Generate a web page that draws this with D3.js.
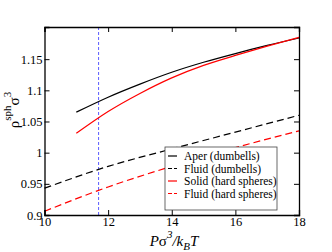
<!DOCTYPE html>
<meta charset="utf-8">
<style>
body { margin: 0; background: #fff; }
svg { font-family: "Liberation Serif", "DejaVu Serif", serif; }
.axis path, .axis line { stroke: #000; }
</style>
<body>
<script src="https://cdn.jsdelivr.net/npm/d3@7"></script>
<script>
var width = 332, height = 252;
var margin = {top: 27, right: 33, bottom: 37, left: 44.5};

// pressure values
var pSolid = [11, 12, 13, 14, 15, 16, 17, 18];
var pFluid = [10, 12, 14, 16, 18];
// densities
var aperDumb = [1.065, 1.089, 1.110, 1.129, 1.145, 1.159, 1.172, 1.184];
var solidHS = [1.031, 1.066, 1.095, 1.120, 1.140, 1.156, 1.171, 1.185];
var fluidDumb = [0.943, 0.978, 1.006, 1.033, 1.060];
var fluidHS = [0.906, 0.945, 0.978, 1.008, 1.035];
var markerP = 11.7;

var xTicks = [10, 12, 14, 16, 18];
var yTicks = [0.9, 0.95, 1, 1.05, 1.1, 1.15];

var legendNames = ["Aper (dumbells)", "Fluid (dumbells)", "Solid (hard spheres)", "Fluid (hard spheres)"];
var series = [
  {x: pSolid, y: aperDumb, color: "#000", dash: null},
  {x: pFluid, y: fluidDumb, color: "#000", dash: "7,4"},
  {x: pSolid, y: solidHS, color: "#ff0000", dash: null},
  {x: pFluid, y: fluidHS, color: "#ff0000", dash: "7,4"}
];

var svg = d3.select("body").append("svg")
    .attr("width", width)
    .attr("height", height);

var x = d3.scaleLinear().domain([10, 18]).range([margin.left, width - margin.right]);
var y = d3.scaleLinear().domain([0.9, 1.2016]).range([height - margin.bottom, margin.top]);

var line = d3.line()
    .x(function(d) { return x(d[0]); })
    .y(function(d) { return y(d[1]); })
    .curve(d3.curveMonotoneX);

// blue marker line
svg.append("line")
    .attr("x1", x(markerP)).attr("x2", x(markerP))
    .attr("y1", y.range()[1]).attr("y2", y.range()[0])
    .attr("stroke", "#3333ff")
    .attr("stroke-width", 0.8)
    .attr("stroke-dasharray", "3,2");

series.forEach(function(s) {
  svg.append("path")
      .datum(d3.zip(s.x, s.y))
      .attr("d", line)
      .attr("fill", "none")
      .attr("stroke", s.color)
      .attr("stroke-width", 1.2)
      .attr("stroke-dasharray", s.dash);
});

// axes, ticks pointing inward
var fmt = function(d) { return d3.format("")(d); };
svg.append("g").attr("class", "axis")
    .attr("transform", "translate(0," + y.range()[0] + ")")
    .call(d3.axisBottom(x).tickValues(xTicks).tickSize(-5).tickPadding(2).tickFormat(fmt));
svg.append("g").attr("class", "axis")
    .attr("transform", "translate(0," + y.range()[1] + ")")
    .call(d3.axisTop(x).tickValues(xTicks).tickSize(-5).tickFormat(""));
svg.append("g").attr("class", "axis")
    .attr("transform", "translate(" + x.range()[0] + ",0)")
    .call(d3.axisLeft(y).tickValues(yTicks).tickSize(-5).tickPadding(2).tickFormat(fmt));
svg.append("g").attr("class", "axis")
    .attr("transform", "translate(" + x.range()[1] + ",0)")
    .call(d3.axisRight(y).tickValues(yTicks).tickSize(-5).tickFormat(""));

svg.selectAll(".axis path").attr("stroke-width", 1.3);
svg.selectAll(".axis text")
    .attr("font-family", "Liberation Serif, serif")
    .attr("font-size", 12.5)
    .attr("fill", "#000");

// legend
var lg = svg.append("g").attr("transform", "translate(165,147)");
lg.append("rect")
    .attr("width", 112).attr("height", 63)
    .attr("fill", "#fff").attr("stroke", "#444").attr("stroke-width", 0.8);
legendNames.forEach(function(n, i) {
  var yy = 9 + i * 12.5;
  lg.append("line")
      .attr("x1", 3).attr("x2", 12).attr("y1", yy).attr("y2", yy)
      .attr("stroke", series[i].color).attr("stroke-width", 1.2)
      .attr("stroke-dasharray", series[i].dash ? "4,2" : null);
  lg.append("text")
      .attr("x", 19).attr("y", yy + 4)
      .attr("font-size", 11.5)
      .text(n);
});

// x label
var xl = svg.append("text")
    .attr("x", 174).attr("y", 246)
    .attr("text-anchor", "middle")
    .attr("font-size", 15)
    .attr("font-style", "italic");
xl.append("tspan").text("P");
xl.append("tspan").attr("font-style", "normal").text("σ");
xl.append("tspan").attr("font-size", 11).attr("dy", -8).text("3");
xl.append("tspan").attr("dy", 8).text("/k");
xl.append("tspan").attr("font-size", 11).attr("dy", 4).text("B");
xl.append("tspan").attr("dy", -4).text("T");

// y label
var yl = svg.append("text")
    .attr("transform", "translate(19,110) rotate(-90)")
    .attr("text-anchor", "middle")
    .attr("font-size", 15);
yl.append("tspan").text("ρ");
yl.append("tspan").attr("font-size", 11).attr("dy", -8).text("sph");
yl.append("tspan").attr("dy", 8).text("σ");
yl.append("tspan").attr("font-size", 11).attr("dy", -8).text("3");
</script>
</body>
